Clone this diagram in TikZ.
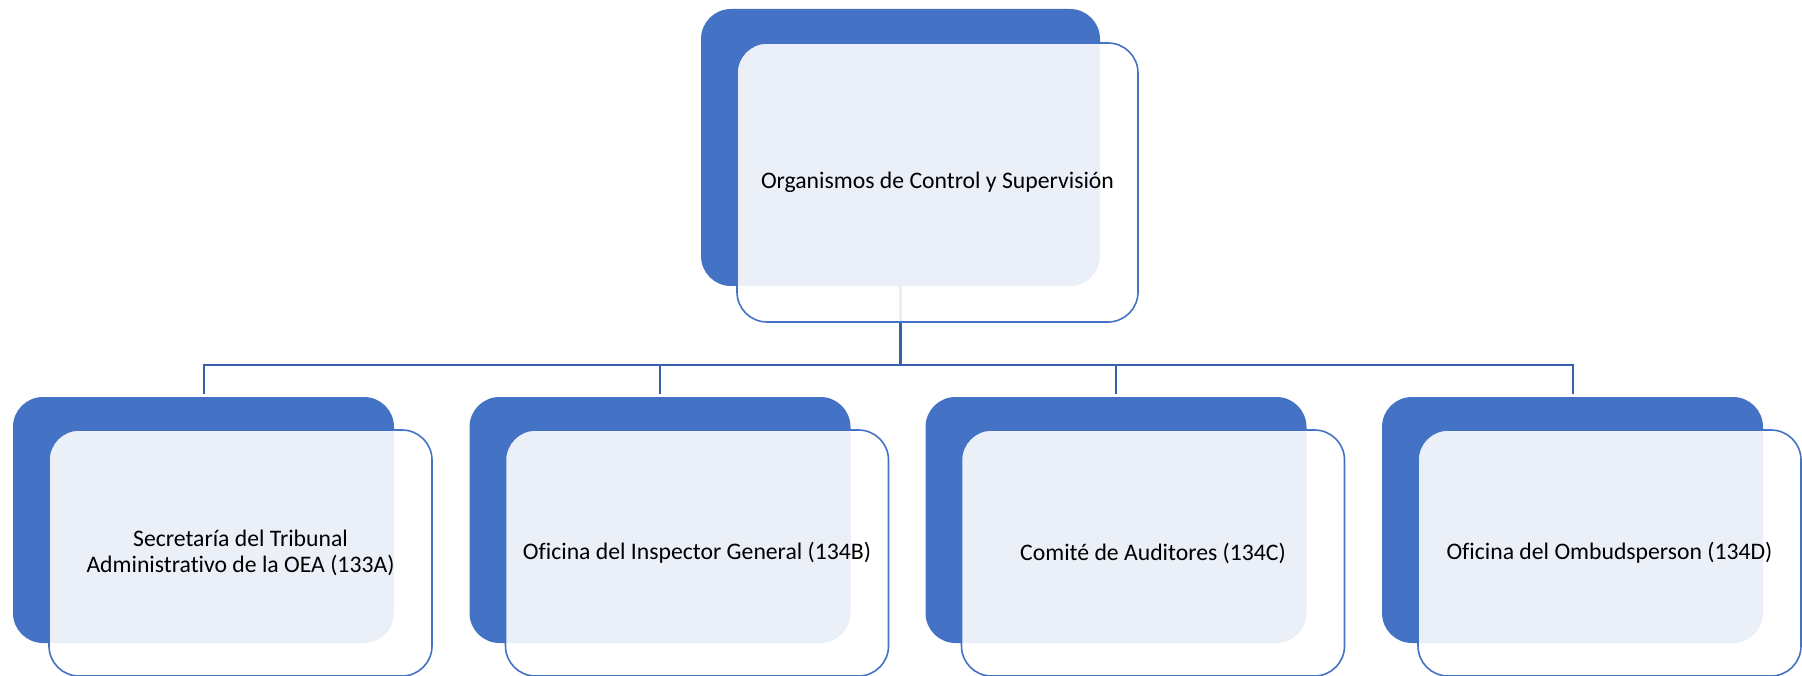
\documentclass[tikz,border=0pt]{standalone}
\usepackage{fontspec}
\setmainfont{Carlito}[Ligatures=NoCommon]
\definecolor{acc}{HTML}{4472C4}
\definecolor{connc}{HTML}{3A5FAB}
\begin{document}
\begin{tikzpicture}[x=1pt,y=-1pt,
 backbox/.style={rectangle, rounded corners=30pt, fill=acc, minimum width=381pt, minimum height=246pt, inner sep=0pt},
 frontbox/.style={rectangle, rounded corners=30pt, draw=acc, line width=1.6pt, fill=white, fill opacity=0.89, draw opacity=1, text opacity=1, minimum width=383pt, minimum height=246pt, inner sep=0pt, align=center, font=\fontsize{23.7}{25.5}\selectfont},
 connline/.style={draw=connc, line width=2pt}]
\useasboundingbox (0,0) rectangle (1802,676);
\clip (0,0) rectangle (1802,676);
\fill[white] (0,0) rectangle (1802,676);
% back boxes
\node[backbox, minimum width=399pt, minimum height=277pt] (tb) at (900.5,147.5) {};
\node[backbox] (b1) at (203.5,520) {};
\node[backbox] (b2) at (660,520) {};
\node[backbox] (b3) at (1116,520) {};
\node[backbox] (b4) at (1572.5,520) {};
% connectors
\coordinate (j) at (900.5,365);
\draw[connline, line width=2.8pt] (tb.south) -- (j);
\draw[connline, shorten >=3pt] (j) -| (b1.north);
\draw[connline, shorten >=3pt] (j) -| (b4.north);
\draw[connline, shorten >=3pt] (b2.north |- j) -- (b2.north);
\draw[connline, shorten >=3pt] (b3.north |- j) -- (b3.north);
% front boxes
\node[frontbox, minimum width=401pt, minimum height=279pt] (f0) at (937.5,182.5) {Organismos de Control y Supervisión};
\node[frontbox] (f1) at (240.5,553) {Secretaría del Tribunal\\Administrativo de la OEA (133A)};
\node[frontbox] (f2) at (697,553) {Oficina del Inspector General (134B)};
\node[frontbox] (f3) at (1153,553) {Comité de Auditores (134C)};
\node[frontbox] (f4) at (1609.5,553) {Oficina del Ombudsperson (134D)};
\end{tikzpicture}
\end{document}
